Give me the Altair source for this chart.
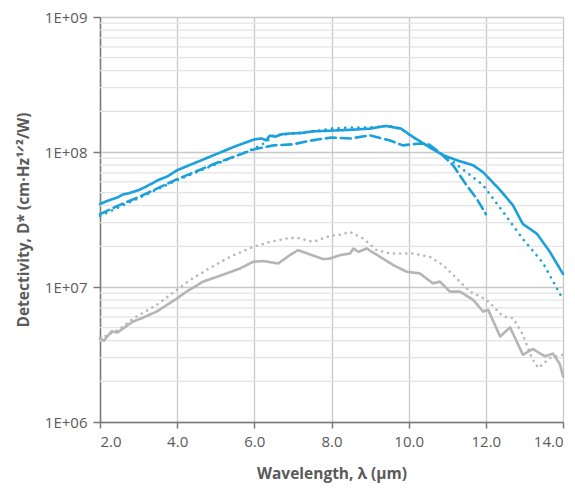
import altair as alt
import pandas as pd

# ---- data ----
blue_solid_x = [2.0, 2.15, 2.3, 2.45, 2.6, 2.75, 3.0, 3.2, 3.5, 3.75, 4.0, 4.5, 5.0, 5.5, 6.0, 6.2, 6.3, 6.4,
                6.55, 6.7, 6.9, 7.2, 7.5, 8.0, 8.5, 9.0, 9.4, 9.8, 10.1, 10.55, 10.9, 11.25, 11.67, 11.93,
                12.37, 12.7, 12.96, 13.33, 13.66, 14.0]
blue_solid_y = [4.11e7, 4.3e7, 4.45e7, 4.6e7, 4.85e7, 4.95e7, 5.22e7, 5.55e7, 6.18e7, 6.6e7, 7.33e7, 8.39e7,
                9.61e7, 1.10e8, 1.24e8, 1.26e8, 1.22e8, 1.32e8, 1.30e8, 1.35e8, 1.37e8, 1.38e8, 1.42e8, 1.44e8,
                1.46e8, 1.49e8, 1.56e8, 1.49e8, 1.30e8, 1.08e8, 9.45e7, 8.68e7, 7.98e7, 7.08e7, 5.22e7, 4.04e7,
                2.93e7, 2.47e7, 1.82e7, 1.25e7]

blue_dash_x = [2.0, 2.5, 3.0, 3.5, 4.0, 4.5, 5.0, 5.5, 6.0, 6.5, 7.0, 7.5, 8.0, 8.5, 9.0, 9.5, 9.85, 10.2,
               10.5, 10.8, 11.15, 11.5, 11.77, 12.0]
blue_dash_y = [3.47e7, 4.04e7, 4.63e7, 5.40e7, 6.29e7, 7.20e7, 8.25e7, 9.29e7, 1.047e8, 1.12e8, 1.14e8,
               1.22e8, 1.28e8, 1.26e8, 1.33e8, 1.22e8, 1.12e8, 1.15e8, 1.15e8, 9.94e7, 7.98e7, 5.68e7,
               4.48e7, 3.47e7]

blue_dot_x = [2.0, 2.5, 3.0, 3.5, 4.0, 4.5, 5.0, 5.5, 6.0, 6.3, 6.5, 7.0, 7.5, 8.0, 8.5, 9.0, 9.5, 9.8,
              10.2, 10.6, 11.0, 11.4, 11.93, 12.45, 12.96, 13.48, 14.0]
blue_dot_y = [3.36e7, 3.91e7, 4.55e7, 5.31e7, 6.18e7, 7.08e7, 8.11e7, 9.29e7, 1.064e8, 1.18e8, 1.33e8,
              1.37e8, 1.42e8, 1.49e8, 1.52e8, 1.52e8, 1.56e8, 1.49e8, 1.24e8, 1.064e8, 9.14e7, 7.45e7,
              5.68e7, 3.59e7, 2.27e7, 1.51e7, 8.07e6]

gray_solid_x = [2.0, 2.1, 2.3, 2.45, 2.6, 2.75, 2.86, 3.1, 3.47, 3.99, 4.24, 4.67, 5.19, 5.63, 5.97, 6.23,
                6.62, 6.92, 7.13, 7.4, 7.78, 7.96, 8.22, 8.48, 8.57, 8.7, 8.91, 9.26, 9.6, 9.95, 10.29,
                10.63, 10.81, 11.07, 11.33, 11.67, 11.93, 12.06, 12.37, 12.63, 12.96, 13.22, 13.53, 13.74,
                13.92, 14.0]
gray_solid_y = [4.16e6, 4.0e6, 4.69e6, 4.6e6, 4.93e6, 5.3e6, 5.55e6, 5.9e6, 6.58e6, 8.20e6, 9.24e6,
                1.095e7, 1.233e7, 1.372e7, 1.538e7, 1.556e7, 1.494e7, 1.722e7, 1.875e7, 1.76e7, 1.61e7,
                1.626e7, 1.722e7, 1.77e7, 1.927e7, 1.822e7, 1.927e7, 1.673e7, 1.454e7, 1.297e7, 1.26e7,
                1.064e7, 1.095e7, 9.24e6, 9.24e6, 8.03e6, 6.58e6, 6.78e6, 4.30e6, 5.02e6, 3.15e6, 3.47e6,
                3.07e6, 3.21e6, 2.68e6, 2.18e6]

gray_dot_x = [2.0, 2.5, 2.86, 3.47, 3.99, 4.33, 4.76, 5.37, 5.97, 6.41, 6.92, 7.13, 7.52, 7.96, 8.22,
              8.48, 8.83, 9.17, 9.52, 10.11, 10.55, 10.89, 11.24, 11.59, 12.02, 12.45, 12.71, 12.96,
              13.19, 13.36, 13.66, 14.0]
gray_dot_y = [4.16e6, 4.85e6, 5.84e6, 7.37e6, 9.51e6, 1.127e7, 1.336e7, 1.673e7, 1.983e7, 2.16e7,
              2.31e7, 2.31e7, 2.16e7, 2.39e7, 2.44e7, 2.56e7, 2.28e7, 1.875e7, 1.77e7, 1.77e7, 1.673e7,
              1.454e7, 1.158e7, 9.24e6, 8.03e6, 6.05e6, 5.87e6, 4.43e6, 2.98e6, 2.51e6, 2.98e6, 3.15e6]

x_ticks = [2, 4, 6, 8, 10, 12, 14]
y_decades = [1e6, 1e7, 1e8, 1e9]
y_minor = [m * 10 ** e for e in (6, 7, 8) for m in range(2, 10)]

series = [
    ("gray_dot", gray_dot_x, gray_dot_y),
    ("gray_solid", gray_solid_x, gray_solid_y),
    ("blue_dot", blue_dot_x, blue_dot_y),
    ("blue_dash", blue_dash_x, blue_dash_y),
    ("blue_solid", blue_solid_x, blue_solid_y),
]
rows = []
for i, (name, xs, ys) in enumerate(series):
    for j, (xv, yv) in enumerate(zip(xs, ys)):
        rows.append({"series": name, "order": i, "idx": j, "x": xv, "y": yv})
df = pd.DataFrame(rows)

names = [s[0] for s in series]
BLUE = "#1aa1dc"
GRAY = "#b5b5b5"
colors = ["#b9b9b9", GRAY, BLUE, BLUE, BLUE]
dashes = [[0.1, 6], [1, 0], [0.1, 6.5], [10, 5], [1, 0]]

xscale = alt.Scale(domain=[2, 14], nice=False, zero=False)
yscale = alt.Scale(type="log", domain=[1e6, 1e9], nice=False)

FONT = "Open Sans"
TXT = "#5a5a5a"

yaxis = alt.Axis(values=y_decades, labelExpr="'1E+0' + round(log(datum.value)/LN10)",
                 title="Detectivity, D* (cm·Hz¹ᐟ²/W)",
                 grid=True, gridColor="#c8c8c8", gridWidth=1.3,
                 domainColor="#7a7a7a", domainWidth=1.5, tickColor="#7a7a7a",
                 tickWidth=1.5, tickSize=7, labelPadding=6, titlePadding=13)
xaxis = alt.Axis(values=x_ticks, format=".1f", title="Wavelength, λ (μm)",
                 grid=True, gridColor="#c8c8c8", gridWidth=1.3,
                 domainColor="#7a7a7a", domainWidth=1.5, tickColor="#7a7a7a",
                 tickWidth=1.5, tickSize=6, labelPadding=6, titlePadding=17)

minor = alt.Chart(pd.DataFrame({"v": y_minor})).mark_rule(
    color="#e3e3e3", strokeWidth=1.3
).encode(
    y=alt.Y("v:Q", scale=yscale, axis=yaxis),
)

lines = alt.Chart(df).mark_line(strokeWidth=2.6, strokeCap="round", strokeJoin="round").encode(
    x=alt.X("x:Q", scale=xscale, axis=xaxis),
    y=alt.Y("y:Q", scale=yscale, axis=yaxis),
    color=alt.Color("series:N", scale=alt.Scale(domain=names, range=colors), legend=None),
    strokeDash=alt.StrokeDash("series:N", scale=alt.Scale(domain=names, range=dashes), legend=None),
    detail="series:N",
    order="idx:Q",
)

chart = alt.layer(minor, lines).properties(
    width=463, height=405,
    autosize=alt.AutoSizeParams(type="none"),
    padding={"left": 92, "top": 9, "right": 4, "bottom": 64},
).configure_axis(
    labelFont=FONT, labelFontSize=15, labelColor=TXT,
    titleFont=FONT, titleFontSize=15.5, titleFontWeight="bold", titleColor=TXT,
).configure_view(stroke=None)

chart.save("out.html", embed_options={"renderer": "svg", "actions": False})
